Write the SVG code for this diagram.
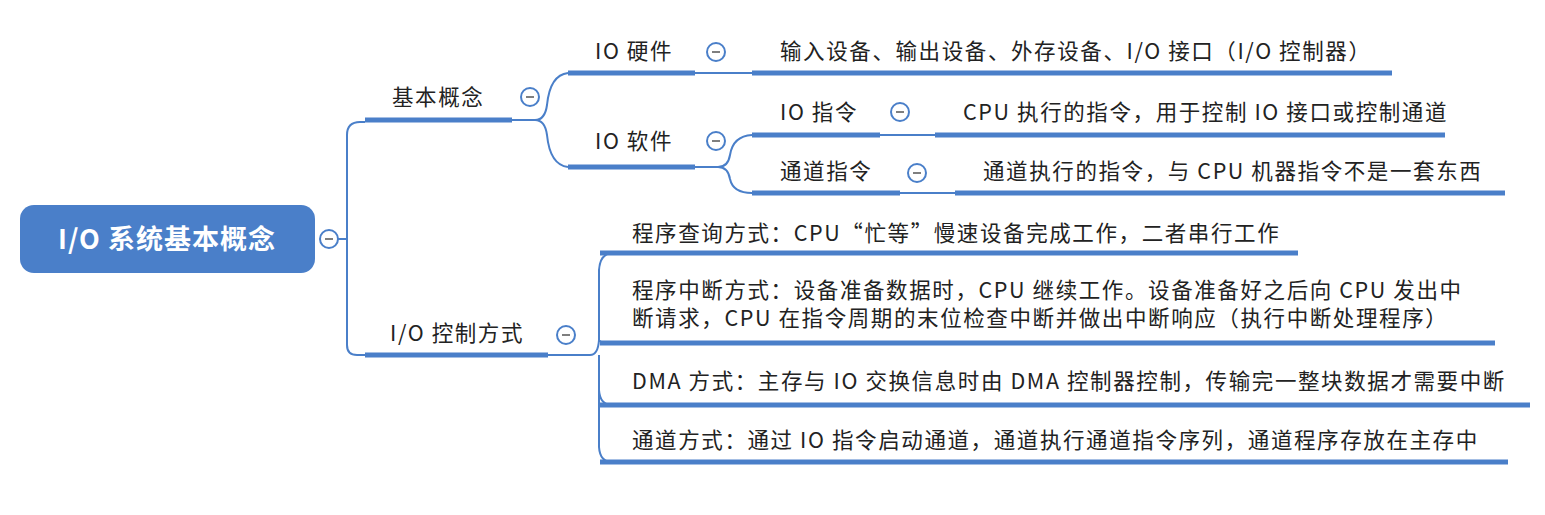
<svg xmlns="http://www.w3.org/2000/svg" width="1545" height="515" viewBox="0 0 1545 515">
<style>
text{font-family:"Noto Sans CJK SC","Noto Sans",sans-serif;font-size:21.5px;letter-spacing:1.6px;fill:#222}
.u{stroke:#4a7fc9;stroke-width:5;fill:none}
.c{stroke:#4a7fc9;stroke-width:2;fill:none}
.btn{fill:#fff;stroke:#4a7fc9;stroke-width:2}
.btnl{stroke:#555;stroke-width:1.5}
</style>
<rect width="1545" height="515" fill="#fff"/>
<g id="connectors">
<path class="c" d="M338,239 H347 M347,135 V345 Q347,355 357,355 H365 M347,135 Q347,122 360,122 H365"/>
<path class="c" d="M512,120 H535 Q545,120 547,105 Q550,75 568,73 M535,120 Q545,120 547,135 Q550,165 568,167"/>
<path class="c" d="M695,73 H752"/>
<path class="c" d="M695,167 H718 Q728,167 730,155 Q733,136 752,135 M718,167 Q728,167 730,179 Q733,193 752,193"/>
<path class="c" d="M880,135 H935 M900,193 H955"/>
<path class="c" d="M548,355 H590 Q598,355 599,340 V270 Q600,254 612,253 M599,340 Q600,343 612,343 M599,355 V390 Q600,405 612,405 M599,390 V447 Q600,462 612,462"/>
</g>
<g id="root"><rect x="20" y="205" width="295" height="68" rx="14" fill="#4a7fc9"/><text x="167" y="249" text-anchor="middle" style="fill:#fff;font-size:27px;font-weight:bold;letter-spacing:1px">I/O 系统基本概念</text><circle class="btn" cx="329" cy="239" r="9"/><line class="btnl" x1="325" y1="239" x2="333" y2="239"/></g>
<g id="n1"><path class="u" d="M365,120 H512"/><text x="392" y="105">基本概念</text><circle class="btn" cx="530" cy="97" r="9"/><line class="btnl" x1="526" y1="97" x2="534" y2="97"/></g>
<g id="n2"><path class="u" d="M568,73 H695"/><text x="595" y="59">IO 硬件</text><circle class="btn" cx="716" cy="52" r="9"/><line class="btnl" x1="712" y1="52" x2="720" y2="52"/></g>
<g id="n3"><path class="u" d="M752,73 H1392"/><text x="780" y="59">输入设备、输出设备、外存设备、I/O 接口（I/O 控制器）</text></g>
<g id="n4"><path class="u" d="M568,167 H695"/><text x="595" y="149">IO 软件</text><circle class="btn" cx="716" cy="141" r="9"/><line class="btnl" x1="712" y1="141" x2="720" y2="141"/></g>
<g id="n5"><path class="u" d="M752,135 H880"/><text x="780" y="120">IO 指令</text><circle class="btn" cx="900" cy="112" r="9"/><line class="btnl" x1="896" y1="112" x2="904" y2="112"/></g>
<g id="n6"><path class="u" d="M935,135 H1445"/><text x="963" y="120">CPU 执行的指令，用于控制 IO 接口或控制通道</text></g>
<g id="n7"><path class="u" d="M752,193 H900"/><text x="780" y="179">通道指令</text><circle class="btn" cx="917" cy="173" r="9"/><line class="btnl" x1="913" y1="173" x2="921" y2="173"/></g>
<g id="n8"><path class="u" d="M955,193 H1505"/><text x="983" y="179">通道执行的指令，与 CPU 机器指令不是一套东西</text></g>
<g id="n9"><path class="u" d="M365,355 H548"/><text x="390" y="341">I/O 控制方式</text><circle class="btn" cx="566" cy="335" r="9"/><line class="btnl" x1="562" y1="335" x2="570" y2="335"/></g>
<g id="n10"><path class="u" d="M600,253 H1298"/><text x="632" y="241">程序查询方式：CPU“忙等”慢速设备完成工作，二者串行工作</text></g>
<g id="n11"><path class="u" d="M600,343 H1495"/><text x="632" y="298">程序中断方式：设备准备数据时，CPU 继续工作。设备准备好之后向 CPU 发出中</text><text x="632" y="326">断请求，CPU 在指令周期的末位检查中断并做出中断响应（执行中断处理程序）</text></g>
<g id="n12"><path class="u" d="M600,405 H1530"/><text x="632" y="389">DMA 方式：主存与 IO 交换信息时由 DMA 控制器控制，传输完一整块数据才需要中断</text></g>
<g id="n13"><path class="u" d="M600,462 H1508"/><text x="632" y="448">通道方式：通过 IO 指令启动通道，通道执行通道指令序列，通道程序存放在主存中</text></g>
</svg>
